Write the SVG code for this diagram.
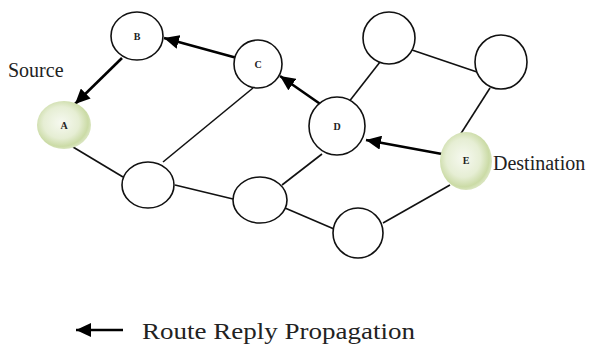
<svg xmlns="http://www.w3.org/2000/svg" width="592" height="344" viewBox="0 0 592 344">
<style>
.node{fill:#fff;stroke:#111;stroke-width:1.6}
.green{fill:url(#g);stroke:none}
.edge{stroke:#111;stroke-width:1.6;fill:none}
.arr{stroke:#000;stroke-width:2.6;fill:none;marker-end:url(#ah)}
.lbl{font-family:"Liberation Serif","Times New Roman",serif;font-size:10px;font-weight:bold;fill:#222;text-anchor:middle}
.txt{font-family:"Liberation Serif","Times New Roman",serif;font-size:20px;fill:#222}
</style>
<defs>
<radialGradient id="g" cx="0.45" cy="0.45" r="0.55">
<stop offset="0" stop-color="#f6f9f0"/>
<stop offset="0.6" stop-color="#e6eed4"/>
<stop offset="0.9" stop-color="#cbdba6"/>
<stop offset="1" stop-color="#d8e4bd"/>
</radialGradient>
<marker id="ah" markerUnits="userSpaceOnUse" markerWidth="16" markerHeight="14" refX="15" refY="7" orient="auto">
<path d="M0,0 L15,7 L0,14 z" fill="#000"/>
</marker>
</defs>
<g id="connectors">
<line class="edge" x1="73" y1="147" x2="123" y2="177"/>
<line class="edge" x1="163" y1="162" x2="253" y2="88"/>
<line class="edge" x1="175" y1="185" x2="233" y2="199"/>
<line class="edge" x1="282" y1="185" x2="322" y2="154"/>
<line class="edge" x1="285" y1="208" x2="334" y2="229"/>
<line class="edge" x1="348" y1="103" x2="380" y2="62"/>
<line class="edge" x1="412" y1="50" x2="477" y2="72"/>
<line class="edge" x1="490" y1="88" x2="460" y2="135"/>
<line class="edge" x1="450" y1="185" x2="383" y2="223"/>
<line class="arr" x1="122" y1="58" x2="75" y2="104"/>
<line class="arr" x1="237" y1="58" x2="164" y2="38"/>
<line class="arr" x1="326" y1="108" x2="280" y2="76"/>
<line class="arr" x1="442" y1="154" x2="366" y2="140"/>
</g>
<g id="node-A"><ellipse class="green" cx="64" cy="125" rx="27" ry="24"/><text class="lbl" x="64" y="129">A</text></g>
<g id="node-B"><ellipse class="node" cx="137" cy="36" rx="26" ry="24"/><text class="lbl" x="137" y="40">B</text></g>
<g id="node-C"><ellipse class="node" cx="258" cy="64" rx="24" ry="24"/><text class="lbl" x="258" y="68">C</text></g>
<g id="node-D"><ellipse class="node" cx="337" cy="126" rx="28" ry="29"/><text class="lbl" x="337" y="130">D</text></g>
<g id="node-E"><ellipse class="green" cx="466" cy="161" rx="26" ry="29"/><text class="lbl" x="466" y="164">E</text></g>
<g id="node-n1"><ellipse class="node" cx="148" cy="185" rx="26" ry="23"/></g>
<g id="node-n2"><ellipse class="node" cx="260" cy="200" rx="27" ry="23"/></g>
<g id="node-n3"><ellipse class="node" cx="358" cy="233" rx="25" ry="25"/></g>
<g id="node-n4"><ellipse class="node" cx="389" cy="38" rx="26" ry="26"/></g>
<g id="node-n5"><ellipse class="node" cx="501" cy="62" rx="26" ry="27"/></g>
<g id="labels">
<text class="txt" x="8" y="77">Source</text>
<text class="txt" x="493" y="170">Destination</text>
<line x1="123" y1="330" x2="76" y2="330" stroke="#000" stroke-width="2.6" marker-end="url(#ah)"/>
<text class="txt" x="142" y="339" style="font-size:23px" textLength="273" lengthAdjust="spacingAndGlyphs">Route Reply Propagation</text>
</g>
</svg>
